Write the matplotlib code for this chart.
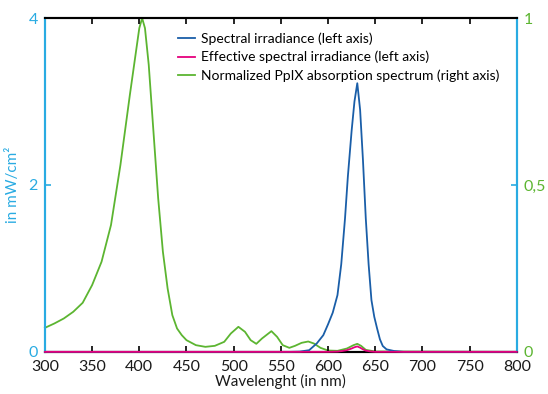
import matplotlib.pyplot as plt

# Spectral irradiance of the light source (left axis, mW/cm^2)
wl_src = [300, 560, 570, 580, 588, 595, 600, 605, 610, 614, 618, 621, 625, 628, 631,
          634, 637, 640, 643, 646, 649, 652, 655, 658, 662, 670, 680, 800]
irr_src = [0, 0, 0.003, 0.02, 0.1, 0.2, 0.33, 0.47, 0.68, 1.05, 1.6, 2.1, 2.65, 3.0, 3.22,
           2.9, 2.3, 1.6, 1.05, 0.62, 0.42, 0.28, 0.15, 0.07, 0.03, 0.01, 0, 0]

# Effective spectral irradiance (left axis)
wl_eff = [300, 600, 610, 615, 620, 625, 628, 631, 634, 637, 640, 645, 650, 800]
irr_eff = [0, 0, 0.003, 0.01, 0.02, 0.04, 0.055, 0.065, 0.05, 0.03, 0.015, 0.005, 0, 0]

# Normalized PpIX absorption spectrum (right axis)
wl_abs = [300, 310, 320, 330, 340, 350, 360, 370, 380, 390, 395, 400, 403, 406, 410,
          415, 420, 425, 430, 435, 440, 445, 450, 460, 470, 480, 490, 497, 505, 512,
          518, 524, 530, 540, 546, 552, 559, 565, 572, 579, 585, 592, 600, 610, 620,
          627, 631, 635, 640, 650, 800]
absorb = [0.072, 0.085, 0.10, 0.12, 0.147, 0.2, 0.27, 0.38, 0.56, 0.77, 0.87, 0.97, 1.0, 0.97, 0.86,
          0.66, 0.46, 0.3, 0.19, 0.11, 0.07, 0.05, 0.035, 0.02, 0.015, 0.018, 0.03, 0.055, 0.075, 0.06,
          0.035, 0.024, 0.04, 0.062, 0.045, 0.02, 0.012, 0.018, 0.027, 0.031, 0.025, 0.012, 0.004, 0.003, 0.01,
          0.02, 0.024, 0.018, 0.006, 0.001, 0.0]

x_ticks = [300, 350, 400, 450, 500, 550, 600, 650, 700, 750, 800]
left_ticks = [0, 2, 4]
right_ticks = [0, 0.5, 1]
right_labels = ['0', '0,5', '1']

plt.rcParams['font.family'] = ['Lato', 'DejaVu Sans']

c_blue = '#1a5ea8'
c_red = '#e5007d'
c_green = '#5cb531'
c_axis = '#29abe2'

fig = plt.figure(figsize=(5.48, 3.94), dpi=100)
ax = fig.add_axes([0.082, 0.107, 0.861, 0.847])
ax2 = ax.twinx()

l1, = ax.plot(wl_src, irr_src, color=c_blue, lw=1.3, clip_on=False, zorder=3,
              label='Spectral irradiance (left axis)')
l2, = ax.plot(wl_eff, irr_eff, color=c_red, lw=1.3, clip_on=False, zorder=4,
              label='Effective spectral irradiance (left axis)')
l3, = ax2.plot(wl_abs, absorb, color=c_green, lw=1.3, clip_on=False, zorder=2,
               label='Normalized PpIX absorption spectrum (right axis)')

ax.set_xlim(300, 800)
ax.set_ylim(0, 4)
ax2.set_ylim(0, 1)

ax.set_xticks(x_ticks)
ax.set_yticks(left_ticks)
ax2.set_yticks(right_ticks)
ax2.set_yticklabels(right_labels)

ax.tick_params(axis='x', direction='in', length=4, width=1.2, labelsize=11.5, pad=6,
               top=True, color='black', labelcolor='#1a1a1a')
ax.tick_params(axis='y', direction='in', length=4, width=1.2, labelsize=11.5, pad=5,
               color=c_axis, labelcolor=c_axis)
ax2.tick_params(axis='y', direction='in', length=4, width=1.2, labelsize=11.5, pad=5,
                color=c_axis, labelcolor=c_green)

for a in (ax, ax2):
    a.spines['left'].set_color(c_axis)
    a.spines['right'].set_color(c_axis)
    a.spines['top'].set_color('black')
    a.spines['bottom'].set_color('black')
    for s in a.spines.values():
        s.set_linewidth(1.5)

ax.set_zorder(ax2.get_zorder() + 1)
ax.patch.set_visible(False)

ax.set_xlabel('Wavelenght (in nm)', fontsize=11, color='#1a1a1a', labelpad=0)
ax.set_ylabel('in mW/cm²', fontsize=11, color=c_axis, labelpad=6)

leg = ax.legend(handles=[l1, l2, l3], loc='upper left', bbox_to_anchor=(0.27, 0.975),
                frameon=False, fontsize=10, handlelength=1.2, handletextpad=0.5,
                labelspacing=0.45, borderaxespad=0)

fig.savefig('out.png', dpi=100)
